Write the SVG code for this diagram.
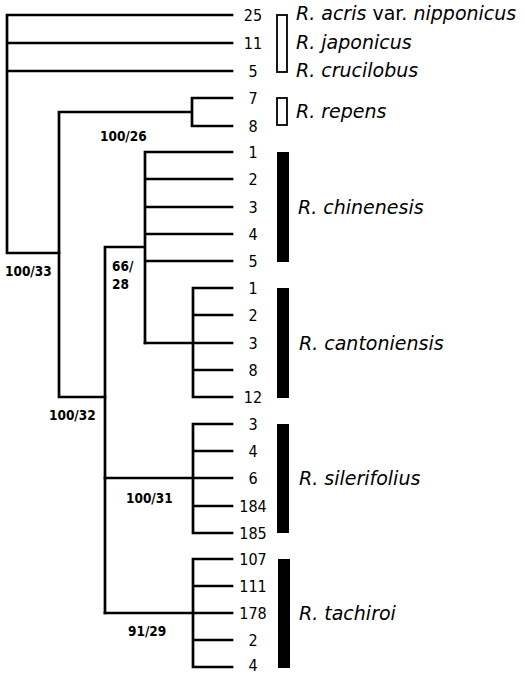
<svg xmlns="http://www.w3.org/2000/svg" width="525" height="674" viewBox="0 0 525 674">
<style>
.br{fill:none;stroke:#000;stroke-width:2.7;stroke-linecap:square}
.num{font-family:"DejaVu Sans",sans-serif;font-stretch:condensed;font-size:16px;text-anchor:middle;fill:#000}
.sp{font-family:"DejaVu Sans",sans-serif;font-style:italic;font-size:19px;fill:#000}
.up{font-style:normal}
.sup{font-family:"DejaVu Sans",sans-serif;font-stretch:condensed;font-weight:bold;font-size:13.5px;fill:#000}
.ob{fill:#fff;stroke:#000;stroke-width:1.8}
.bb{fill:#000}
</style>
<rect width="525" height="674" fill="#fff"/>
<g id="connectors">
<path class="br" d="M7,15V253H59M7,15H232M7,43H232M7,71H232"/>
<path class="br" d="M59,112V397H105M59,112H192M192,98V126M192,98H232M192,126H232"/>
<path class="br" d="M105,247V613M105,247H145M145,152V343M145,152H232M145,179H232M145,207H232M145,234H232M145,261H232"/>
<path class="br" d="M145,343H193M193,288V397M193,288H232M193,315H232M193,343H232M193,370H232M193,397H232"/>
<path class="br" d="M105,478H193M193,424V533M193,424H232M193,451H232M193,478H232M193,506H232M193,533H232"/>
<path class="br" d="M105,613H193M193,559V667M193,559H232M193,586H232M193,613H232M193,640H232M193,667H232"/>
</g>
<g id="leaves">
<text class="num" x="253" y="21">25</text>
<text class="num" x="253" y="49">11</text>
<text class="num" x="253" y="77">5</text>
<text class="num" x="253" y="104">7</text>
<text class="num" x="253" y="132">8</text>
<text class="num" x="253" y="158">1</text>
<text class="num" x="253" y="185">2</text>
<text class="num" x="253" y="213">3</text>
<text class="num" x="253" y="240">4</text>
<text class="num" x="253" y="267">5</text>
<text class="num" x="253" y="294">1</text>
<text class="num" x="253" y="321">2</text>
<text class="num" x="253" y="349">3</text>
<text class="num" x="253" y="376">8</text>
<text class="num" x="253" y="403">12</text>
<text class="num" x="253" y="430">3</text>
<text class="num" x="253" y="457">4</text>
<text class="num" x="253" y="484">6</text>
<text class="num" x="253" y="512">184</text>
<text class="num" x="253" y="539">185</text>
<text class="num" x="253" y="565">107</text>
<text class="num" x="253" y="592">111</text>
<text class="num" x="253" y="619">178</text>
<text class="num" x="253" y="646">2</text>
<text class="num" x="253" y="671">4</text>
</g>
<g id="supports">
<text class="sup" x="100" y="141">100/26</text>
<text class="sup" x="5" y="276">100/33</text>
<text class="sup" x="112" y="271">66/</text>
<text class="sup" x="112" y="289">28</text>
<text class="sup" x="49" y="420">100/32</text>
<text class="sup" x="126" y="503">100/31</text>
<text class="sup" x="128" y="636">91/29</text>
</g>
<g id="group-outgroup">
<rect class="ob" x="277" y="15" width="10" height="57"/>
<text class="sp" x="296" y="20">R. acris<tspan class="up"> var. </tspan>nipponicus</text>
<text class="sp" x="296" y="49">R. japonicus</text>
<text class="sp" x="296" y="77">R. crucilobus</text>
</g>
<g id="group-repens">
<rect class="ob" x="277" y="98" width="10" height="27"/>
<text class="sp" x="296" y="118">R. repens</text>
</g>
<g id="group-chinenesis">
<rect class="bb" x="277" y="152" width="12" height="110"/>
<text class="sp" x="298" y="214">R. chinenesis</text>
</g>
<g id="group-cantoniensis">
<rect class="bb" x="277" y="288" width="12" height="110"/>
<text class="sp" x="299" y="350">R. cantoniensis</text>
</g>
<g id="group-silerifolius">
<rect class="bb" x="277" y="424" width="12" height="109"/>
<text class="sp" x="299" y="485">R. silerifolius</text>
</g>
<g id="group-tachiroi">
<rect class="bb" x="278" y="559" width="12" height="109"/>
<text class="sp" x="299" y="620">R. tachiroi</text>
</g>
</svg>
